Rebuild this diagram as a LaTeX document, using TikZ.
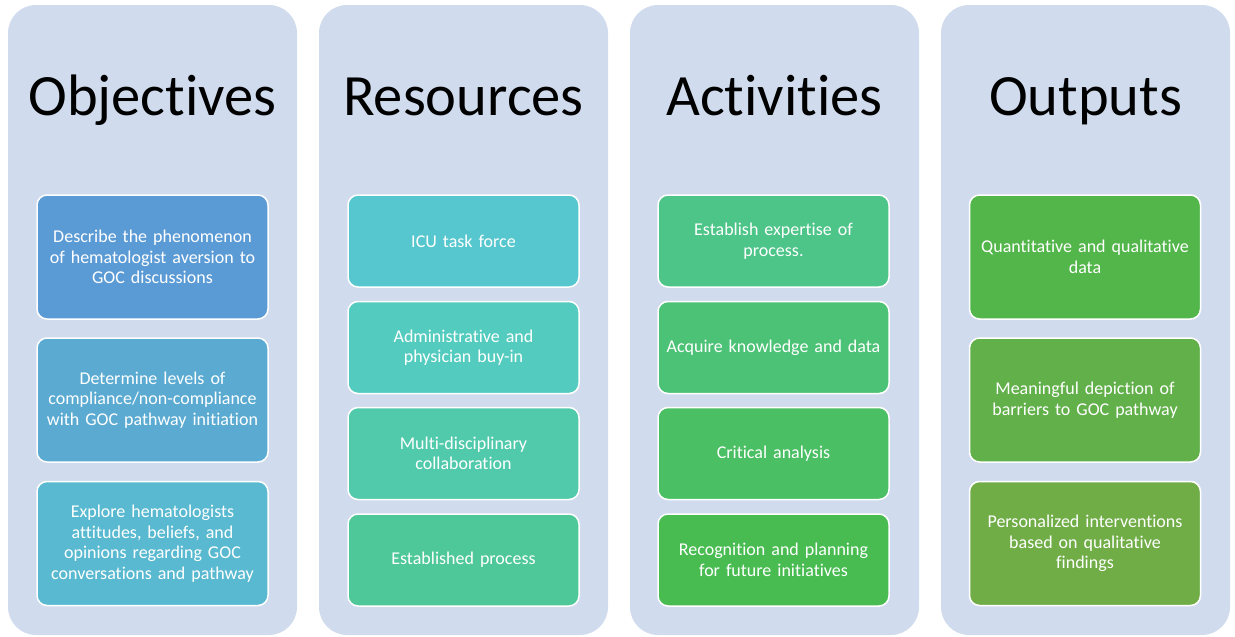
\documentclass[tikz,border=0pt]{standalone}
\usepackage{fontspec}
\setmainfont{Carlito}[Ligatures={NoCommon,NoDiscretionary}]
\usepackage{xcolor}

\definecolor{panelbg}{RGB}{208,220,237}
\definecolor{objA}{RGB}{91,155,213}
\definecolor{objB}{RGB}{90,170,210}
\definecolor{objC}{RGB}{89,185,208}
\definecolor{resA}{RGB}{86,199,206}
\definecolor{resB}{RGB}{83,203,190}
\definecolor{resC}{RGB}{81,202,172}
\definecolor{resD}{RGB}{79,200,153}
\definecolor{actA}{RGB}{77,196,136}
\definecolor{actB}{RGB}{76,194,118}
\definecolor{actC}{RGB}{74,191,99}
\definecolor{actD}{RGB}{72,188,81}
\definecolor{outA}{RGB}{83,182,74}
\definecolor{outB}{RGB}{98,176,74}
\definecolor{outC}{RGB}{112,173,71}

\begin{document}
\begin{tikzpicture}[x=1pt, y=-1pt,
    panel/.style = {rectangle, rounded corners=28pt, fill=panelbg,
        minimum width=289pt, minimum height=630pt},
    heading/.style = {anchor=base, font=\fontsize{58.5}{62}\selectfont},
    tallbox/.style = {rectangle, rounded corners=10pt, draw=white, line width=1.5pt,
        text=white, align=center, text width=225pt, inner sep=3pt,
        minimum height=124pt, font=\fontsize{18}{20.5}\selectfont},
    shortbox/.style = {tallbox, minimum height=92pt}]

\useasboundingbox (0,0) rectangle (1235,637);

% Panels
\node[panel] (objpanel) at (152.5,320) {};
\node[panel] (respanel) at (463.5,320) {};
\node[panel] (actpanel) at (774.5,320) {};
\node[panel] (outpanel) at (1085.5,320) {};

% Headings
\node[heading] (objtitle) at (152.5,115) {Objectives};
\node[heading] (restitle) at (463.5,115) {Resources};
\node[heading] (acttitle) at (774.5,115) {Activities};
\node[heading] (outtitle) at (1085.5,115) {Outputs};

% Objectives
\node[tallbox,fill=objA] (obj1) at (152.5,257) {Describe the phenomenon\\of hematologist aversion to\\GOC discussions};
\node[tallbox,fill=objB] (obj2) at (152.5,400) {Determine levels of\\compliance/non-compliance\\with GOC pathway initiation};
\node[tallbox,fill=objC] (obj3) at (152.5,543.5) {Explore hematologists\\attitudes, beliefs, and\\opinions regarding GOC\\conversations and pathway};

% Resources
\node[shortbox,fill=resA] (res1) at (463.5,241) {ICU task force};
\node[shortbox,fill=resB] (res2) at (463.5,347.5) {Administrative and\\physician buy-in};
\node[shortbox,fill=resC] (res3) at (463.5,453.5) {Multi-disciplinary\\collaboration};
\node[shortbox,fill=resD] (res4) at (463.5,560) {Established process};

% Activities
\node[shortbox,fill=actA] (act1) at (773.5,241) {Establish expertise of\\process.};
\node[shortbox,fill=actB] (act2) at (773.5,347.5) {Acquire knowledge and data};
\node[shortbox,fill=actC] (act3) at (773.5,453.5) {Critical analysis};
\node[shortbox,fill=actD] (act4) at (773.5,560) {Recognition and planning\\for future initiatives};

% Outputs
\node[tallbox,fill=outA] (out1) at (1085,257) {Quantitative and qualitative\\data};
\node[tallbox,fill=outB] (out2) at (1085,400) {Meaningful depiction of\\barriers to GOC pathway};
\node[tallbox,fill=outC] (out3) at (1085,543.5) {Personalized interventions\\based on qualitative\\findings};
\end{tikzpicture}
\end{document}
